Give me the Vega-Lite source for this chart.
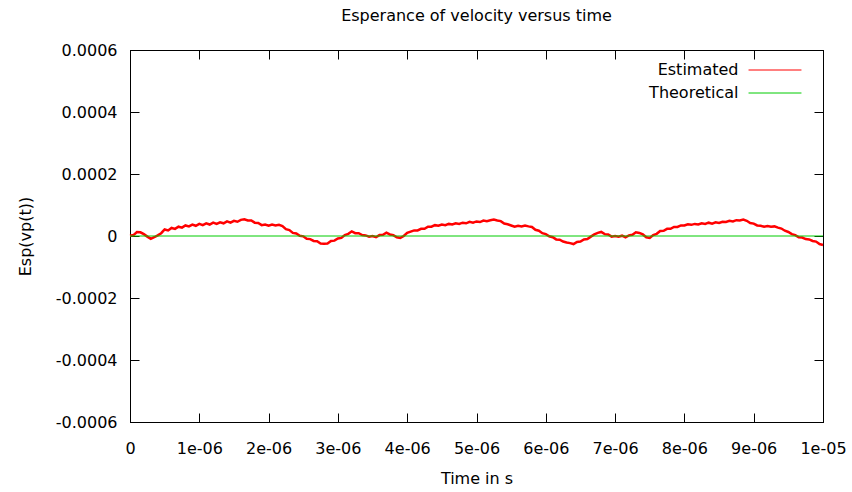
{
  "$schema": "https://vega.github.io/schema/vega-lite/v6.json",
  "width": 693,
  "height": 372,
  "autosize": "none",
  "padding": {"left": 130, "top": 50, "right": 29, "bottom": 70},
  "background": "white",
  "config": {
    "font": "DejaVu Sans",
    "view": {"stroke": "black", "strokeWidth": 1},
    "axis": {"labelFont": "DejaVu Sans", "titleFont": "DejaVu Sans", "labelFontSize": 16, "titleFontSize": 16, "titleFontWeight": "normal", "labelColor": "black", "titleColor": "black", "domainColor": "black", "tickColor": "black", "grid": false, "labelFlush": false, "labelOverlap": false}
  },
  "title": {"text": "Esperance of velocity versus time", "fontSize": 16, "font": "DejaVu Sans", "fontWeight": "normal", "color": "black", "offset": 18, "anchor": "middle"},
  "data": {"values": [
    {"time": 0, "value": 1e-6, "series": "Estimated"},
    {"time": 5e-8, "value": 3e-6, "series": "Estimated"},
    {"time": 10e-8, "value": 13e-6, "series": "Estimated"},
    {"time": 15e-8, "value": 12e-6, "series": "Estimated"},
    {"time": 20e-8, "value": 6e-6, "series": "Estimated"},
    {"time": 25e-8, "value": -2e-6, "series": "Estimated"},
    {"time": 30e-8, "value": -9e-6, "series": "Estimated"},
    {"time": 35e-8, "value": -4e-6, "series": "Estimated"},
    {"time": 40e-8, "value": 2e-6, "series": "Estimated"},
    {"time": 45e-8, "value": 9e-6, "series": "Estimated"},
    {"time": 50e-8, "value": 21e-6, "series": "Estimated"},
    {"time": 55e-8, "value": 18e-6, "series": "Estimated"},
    {"time": 60e-8, "value": 26e-6, "series": "Estimated"},
    {"time": 65e-8, "value": 23e-6, "series": "Estimated"},
    {"time": 70e-8, "value": 30e-6, "series": "Estimated"},
    {"time": 75e-8, "value": 27e-6, "series": "Estimated"},
    {"time": 80e-8, "value": 34e-6, "series": "Estimated"},
    {"time": 85e-8, "value": 31e-6, "series": "Estimated"},
    {"time": 90e-8, "value": 37e-6, "series": "Estimated"},
    {"time": 95e-8, "value": 33e-6, "series": "Estimated"},
    {"time": 100e-8, "value": 39e-6, "series": "Estimated"},
    {"time": 105e-8, "value": 35e-6, "series": "Estimated"},
    {"time": 110e-8, "value": 41e-6, "series": "Estimated"},
    {"time": 115e-8, "value": 37e-6, "series": "Estimated"},
    {"time": 120e-8, "value": 43e-6, "series": "Estimated"},
    {"time": 125e-8, "value": 39e-6, "series": "Estimated"},
    {"time": 130e-8, "value": 44e-6, "series": "Estimated"},
    {"time": 135e-8, "value": 41e-6, "series": "Estimated"},
    {"time": 140e-8, "value": 47e-6, "series": "Estimated"},
    {"time": 145e-8, "value": 43e-6, "series": "Estimated"},
    {"time": 150e-8, "value": 49e-6, "series": "Estimated"},
    {"time": 155e-8, "value": 46e-6, "series": "Estimated"},
    {"time": 160e-8, "value": 52e-6, "series": "Estimated"},
    {"time": 165e-8, "value": 54e-6, "series": "Estimated"},
    {"time": 170e-8, "value": 50e-6, "series": "Estimated"},
    {"time": 175e-8, "value": 50e-6, "series": "Estimated"},
    {"time": 180e-8, "value": 43e-6, "series": "Estimated"},
    {"time": 185e-8, "value": 42e-6, "series": "Estimated"},
    {"time": 190e-8, "value": 35e-6, "series": "Estimated"},
    {"time": 195e-8, "value": 37e-6, "series": "Estimated"},
    {"time": 200e-8, "value": 33e-6, "series": "Estimated"},
    {"time": 205e-8, "value": 37e-6, "series": "Estimated"},
    {"time": 210e-8, "value": 34e-6, "series": "Estimated"},
    {"time": 215e-8, "value": 36e-6, "series": "Estimated"},
    {"time": 220e-8, "value": 32e-6, "series": "Estimated"},
    {"time": 225e-8, "value": 22e-6, "series": "Estimated"},
    {"time": 230e-8, "value": 19e-6, "series": "Estimated"},
    {"time": 235e-8, "value": 10e-6, "series": "Estimated"},
    {"time": 240e-8, "value": 8e-6, "series": "Estimated"},
    {"time": 245e-8, "value": 1e-6, "series": "Estimated"},
    {"time": 250e-8, "value": -1e-6, "series": "Estimated"},
    {"time": 255e-8, "value": -9e-6, "series": "Estimated"},
    {"time": 260e-8, "value": -10e-6, "series": "Estimated"},
    {"time": 265e-8, "value": -16e-6, "series": "Estimated"},
    {"time": 270e-8, "value": -17e-6, "series": "Estimated"},
    {"time": 275e-8, "value": -24e-6, "series": "Estimated"},
    {"time": 280e-8, "value": -25e-6, "series": "Estimated"},
    {"time": 285e-8, "value": -24e-6, "series": "Estimated"},
    {"time": 290e-8, "value": -16e-6, "series": "Estimated"},
    {"time": 295e-8, "value": -15e-6, "series": "Estimated"},
    {"time": 300e-8, "value": -8e-6, "series": "Estimated"},
    {"time": 305e-8, "value": -6e-6, "series": "Estimated"},
    {"time": 310e-8, "value": 3e-6, "series": "Estimated"},
    {"time": 315e-8, "value": 7e-6, "series": "Estimated"},
    {"time": 320e-8, "value": 15e-6, "series": "Estimated"},
    {"time": 325e-8, "value": 9e-6, "series": "Estimated"},
    {"time": 330e-8, "value": 9e-6, "series": "Estimated"},
    {"time": 335e-8, "value": 3e-6, "series": "Estimated"},
    {"time": 340e-8, "value": 2e-6, "series": "Estimated"},
    {"time": 345e-8, "value": -2e-6, "series": "Estimated"},
    {"time": 350e-8, "value": 0, "series": "Estimated"},
    {"time": 355e-8, "value": -4e-6, "series": "Estimated"},
    {"time": 360e-8, "value": 3e-6, "series": "Estimated"},
    {"time": 365e-8, "value": 4e-6, "series": "Estimated"},
    {"time": 370e-8, "value": 11e-6, "series": "Estimated"},
    {"time": 375e-8, "value": 5e-6, "series": "Estimated"},
    {"time": 380e-8, "value": 3e-6, "series": "Estimated"},
    {"time": 385e-8, "value": -4e-6, "series": "Estimated"},
    {"time": 390e-8, "value": -6e-6, "series": "Estimated"},
    {"time": 395e-8, "value": 0, "series": "Estimated"},
    {"time": 400e-8, "value": 10e-6, "series": "Estimated"},
    {"time": 405e-8, "value": 14e-6, "series": "Estimated"},
    {"time": 410e-8, "value": 18e-6, "series": "Estimated"},
    {"time": 415e-8, "value": 18e-6, "series": "Estimated"},
    {"time": 420e-8, "value": 23e-6, "series": "Estimated"},
    {"time": 425e-8, "value": 23e-6, "series": "Estimated"},
    {"time": 430e-8, "value": 30e-6, "series": "Estimated"},
    {"time": 435e-8, "value": 30e-6, "series": "Estimated"},
    {"time": 440e-8, "value": 35e-6, "series": "Estimated"},
    {"time": 445e-8, "value": 33e-6, "series": "Estimated"},
    {"time": 450e-8, "value": 37e-6, "series": "Estimated"},
    {"time": 455e-8, "value": 35e-6, "series": "Estimated"},
    {"time": 460e-8, "value": 39e-6, "series": "Estimated"},
    {"time": 465e-8, "value": 37e-6, "series": "Estimated"},
    {"time": 470e-8, "value": 41e-6, "series": "Estimated"},
    {"time": 475e-8, "value": 39e-6, "series": "Estimated"},
    {"time": 480e-8, "value": 43e-6, "series": "Estimated"},
    {"time": 485e-8, "value": 41e-6, "series": "Estimated"},
    {"time": 490e-8, "value": 46e-6, "series": "Estimated"},
    {"time": 495e-8, "value": 43e-6, "series": "Estimated"},
    {"time": 500e-8, "value": 47e-6, "series": "Estimated"},
    {"time": 505e-8, "value": 45e-6, "series": "Estimated"},
    {"time": 510e-8, "value": 50e-6, "series": "Estimated"},
    {"time": 515e-8, "value": 48e-6, "series": "Estimated"},
    {"time": 520e-8, "value": 51e-6, "series": "Estimated"},
    {"time": 525e-8, "value": 53e-6, "series": "Estimated"},
    {"time": 530e-8, "value": 50e-6, "series": "Estimated"},
    {"time": 535e-8, "value": 48e-6, "series": "Estimated"},
    {"time": 540e-8, "value": 40e-6, "series": "Estimated"},
    {"time": 545e-8, "value": 38e-6, "series": "Estimated"},
    {"time": 550e-8, "value": 34e-6, "series": "Estimated"},
    {"time": 555e-8, "value": 30e-6, "series": "Estimated"},
    {"time": 560e-8, "value": 33e-6, "series": "Estimated"},
    {"time": 565e-8, "value": 31e-6, "series": "Estimated"},
    {"time": 570e-8, "value": 34e-6, "series": "Estimated"},
    {"time": 575e-8, "value": 31e-6, "series": "Estimated"},
    {"time": 580e-8, "value": 29e-6, "series": "Estimated"},
    {"time": 585e-8, "value": 20e-6, "series": "Estimated"},
    {"time": 590e-8, "value": 17e-6, "series": "Estimated"},
    {"time": 595e-8, "value": 9e-6, "series": "Estimated"},
    {"time": 600e-8, "value": 6e-6, "series": "Estimated"},
    {"time": 605e-8, "value": -1e-6, "series": "Estimated"},
    {"time": 610e-8, "value": -4e-6, "series": "Estimated"},
    {"time": 615e-8, "value": -11e-6, "series": "Estimated"},
    {"time": 620e-8, "value": -12e-6, "series": "Estimated"},
    {"time": 625e-8, "value": -18e-6, "series": "Estimated"},
    {"time": 630e-8, "value": -21e-6, "series": "Estimated"},
    {"time": 635e-8, "value": -23e-6, "series": "Estimated"},
    {"time": 640e-8, "value": -26e-6, "series": "Estimated"},
    {"time": 645e-8, "value": -19e-6, "series": "Estimated"},
    {"time": 650e-8, "value": -18e-6, "series": "Estimated"},
    {"time": 655e-8, "value": -11e-6, "series": "Estimated"},
    {"time": 660e-8, "value": -10e-6, "series": "Estimated"},
    {"time": 665e-8, "value": -2e-6, "series": "Estimated"},
    {"time": 670e-8, "value": 5e-6, "series": "Estimated"},
    {"time": 675e-8, "value": 10e-6, "series": "Estimated"},
    {"time": 680e-8, "value": 13e-6, "series": "Estimated"},
    {"time": 685e-8, "value": 6e-6, "series": "Estimated"},
    {"time": 690e-8, "value": 5e-6, "series": "Estimated"},
    {"time": 695e-8, "value": -2e-6, "series": "Estimated"},
    {"time": 700e-8, "value": 0, "series": "Estimated"},
    {"time": 705e-8, "value": -2e-6, "series": "Estimated"},
    {"time": 710e-8, "value": 1e-6, "series": "Estimated"},
    {"time": 715e-8, "value": -4e-6, "series": "Estimated"},
    {"time": 720e-8, "value": 2e-6, "series": "Estimated"},
    {"time": 725e-8, "value": 4e-6, "series": "Estimated"},
    {"time": 730e-8, "value": 12e-6, "series": "Estimated"},
    {"time": 735e-8, "value": 10e-6, "series": "Estimated"},
    {"time": 740e-8, "value": 5e-6, "series": "Estimated"},
    {"time": 745e-8, "value": -4e-6, "series": "Estimated"},
    {"time": 750e-8, "value": -6e-6, "series": "Estimated"},
    {"time": 755e-8, "value": 3e-6, "series": "Estimated"},
    {"time": 760e-8, "value": 7e-6, "series": "Estimated"},
    {"time": 765e-8, "value": 16e-6, "series": "Estimated"},
    {"time": 770e-8, "value": 17e-6, "series": "Estimated"},
    {"time": 775e-8, "value": 23e-6, "series": "Estimated"},
    {"time": 780e-8, "value": 23e-6, "series": "Estimated"},
    {"time": 785e-8, "value": 29e-6, "series": "Estimated"},
    {"time": 790e-8, "value": 29e-6, "series": "Estimated"},
    {"time": 795e-8, "value": 34e-6, "series": "Estimated"},
    {"time": 800e-8, "value": 34e-6, "series": "Estimated"},
    {"time": 805e-8, "value": 38e-6, "series": "Estimated"},
    {"time": 810e-8, "value": 36e-6, "series": "Estimated"},
    {"time": 815e-8, "value": 39e-6, "series": "Estimated"},
    {"time": 820e-8, "value": 37e-6, "series": "Estimated"},
    {"time": 825e-8, "value": 41e-6, "series": "Estimated"},
    {"time": 830e-8, "value": 39e-6, "series": "Estimated"},
    {"time": 835e-8, "value": 43e-6, "series": "Estimated"},
    {"time": 840e-8, "value": 40e-6, "series": "Estimated"},
    {"time": 845e-8, "value": 44e-6, "series": "Estimated"},
    {"time": 850e-8, "value": 42e-6, "series": "Estimated"},
    {"time": 855e-8, "value": 46e-6, "series": "Estimated"},
    {"time": 860e-8, "value": 45e-6, "series": "Estimated"},
    {"time": 865e-8, "value": 49e-6, "series": "Estimated"},
    {"time": 870e-8, "value": 47e-6, "series": "Estimated"},
    {"time": 875e-8, "value": 51e-6, "series": "Estimated"},
    {"time": 880e-8, "value": 50e-6, "series": "Estimated"},
    {"time": 885e-8, "value": 53e-6, "series": "Estimated"},
    {"time": 890e-8, "value": 49e-6, "series": "Estimated"},
    {"time": 895e-8, "value": 42e-6, "series": "Estimated"},
    {"time": 900e-8, "value": 40e-6, "series": "Estimated"},
    {"time": 905e-8, "value": 34e-6, "series": "Estimated"},
    {"time": 910e-8, "value": 33e-6, "series": "Estimated"},
    {"time": 915e-8, "value": 30e-6, "series": "Estimated"},
    {"time": 920e-8, "value": 32e-6, "series": "Estimated"},
    {"time": 925e-8, "value": 30e-6, "series": "Estimated"},
    {"time": 930e-8, "value": 31e-6, "series": "Estimated"},
    {"time": 935e-8, "value": 27e-6, "series": "Estimated"},
    {"time": 940e-8, "value": 24e-6, "series": "Estimated"},
    {"time": 945e-8, "value": 17e-6, "series": "Estimated"},
    {"time": 950e-8, "value": 13e-6, "series": "Estimated"},
    {"time": 955e-8, "value": 6e-6, "series": "Estimated"},
    {"time": 960e-8, "value": 3e-6, "series": "Estimated"},
    {"time": 965e-8, "value": -4e-6, "series": "Estimated"},
    {"time": 970e-8, "value": -5e-6, "series": "Estimated"},
    {"time": 975e-8, "value": -10e-6, "series": "Estimated"},
    {"time": 980e-8, "value": -11e-6, "series": "Estimated"},
    {"time": 985e-8, "value": -16e-6, "series": "Estimated"},
    {"time": 990e-8, "value": -18e-6, "series": "Estimated"},
    {"time": 995e-8, "value": -26e-6, "series": "Estimated"},
    {"time": 1000e-8, "value": -29e-6, "series": "Estimated"},
    {"time": 0, "value": 0, "series": "Theoretical"},
    {"time": 1e-5, "value": 0, "series": "Theoretical"}
  ]},
  "encoding": {
    "color": {
      "field": "series", "type": "nominal",
      "scale": {"domain": ["Estimated", "Theoretical"], "range": ["#ff0000", "#00cc00"]},
      "legend": {"title": null, "orient": "none", "legendX": 637, "legendY": 12, "symbolType": "M-4,0H4", "symbolSize": 175, "symbolStrokeWidth": 1, "symbolOffset": 0, "labelAlign": "right", "labelOffset": -44.5, "labelFontSize": 16, "labelFont": "DejaVu Sans", "labelColor": "black", "rowPadding": 7, "padding": 0}
    }
  },
  "layer": [
    {
      "transform": [{"filter": "datum.series == 'Estimated'"}],
      "mark": {"type": "line", "strokeWidth": 2.5},
      "encoding": {
        "x": {"field": "time", "type": "quantitative", "scale": {"domain": [0, 1e-5], "nice": false, "zero": false},
              "axis": {"orient": "bottom", "title": "Time in s", "values": [0, 1e-6, 2e-6, 3e-6, 4e-6, 5e-6, 6e-6, 7e-6, 8e-6, 9e-6, 1e-5], "tickSize": -9, "labelPadding": 27, "titlePadding": 14,
                       "labelExpr": "datum.value == 0 ? '0' : replace(format(datum.value, '.0e'), 'e-', 'e-0')"}},
        "y": {"field": "value", "type": "quantitative", "scale": {"domain": [-0.0006, 0.0006], "nice": false, "zero": false},
              "axis": {"orient": "left", "title": "Esp(vp(t))", "values": [-0.0006, -0.0004, -0.0002, 0, 0.0002, 0.0004, 0.0006], "tickSize": -9, "labelPadding": 22, "titlePadding": 22,
                       "labelExpr": "datum.value == 0 ? '0' : replace(format(datum.value, '.4f'), '\u2212', '-')"}}
      }
    },
    {
      "transform": [{"filter": "datum.series == 'Theoretical'"}],
      "mark": {"type": "line", "strokeWidth": 1},
      "encoding": {
        "x": {"field": "time", "type": "quantitative", "scale": {"domain": [0, 1e-5], "nice": false, "zero": false},
              "axis": {"orient": "top", "title": null, "labels": false, "values": [0, 1e-6, 2e-6, 3e-6, 4e-6, 5e-6, 6e-6, 7e-6, 8e-6, 9e-6, 1e-5], "tickSize": -9}},
        "y": {"field": "value", "type": "quantitative", "scale": {"domain": [-0.0006, 0.0006], "nice": false, "zero": false},
              "axis": {"orient": "right", "title": null, "labels": false, "values": [-0.0006, -0.0004, -0.0002, 0, 0.0002, 0.0004, 0.0006], "tickSize": -9}}
      }
    }
  ],
  "resolve": {"axis": {"x": "independent", "y": "independent"}}
}
